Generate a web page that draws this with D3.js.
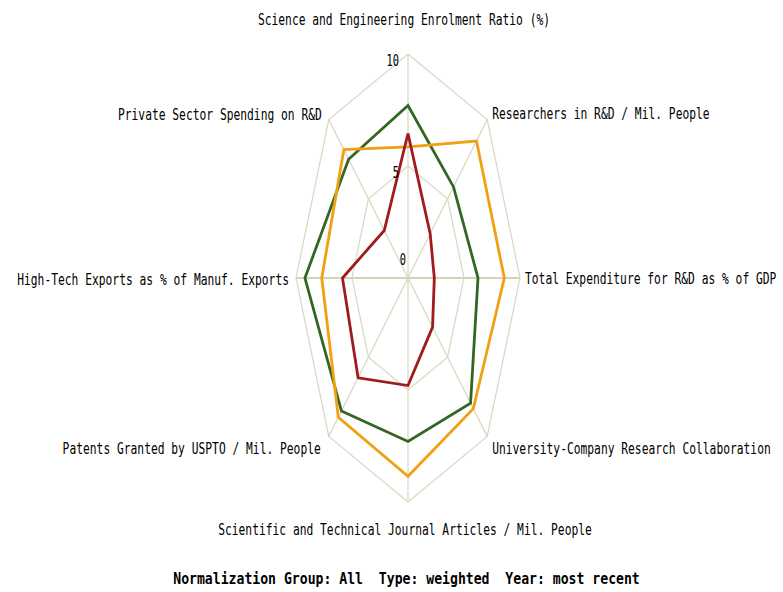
<!DOCTYPE html>
<html lang="en">
<head>
    <meta charset="UTF-8">
    <title>Radar</title>
    <script src="https://d3js.org/d3.v7.min.js"></script>
    <style>
        body { margin: 0; background: #fff; }
        text { font-family: "DejaVu Sans Mono", "Liberation Mono", monospace; fill: #000; }
    </style>
</head>
<body>
    <script>
        const categories = [
            "Science and Engineering Enrolment Ratio (%)",
            "Researchers in R&D / Mil. People",
            "Total Expenditure for R&D as % of GDP",
            "University-Company Research Collaboration",
            "Scientific and Technical Journal Articles / Mil. People",
            "Patents Granted by USPTO / Mil. People",
            "High-Tech Exports as % of Manuf. Exports",
            "Private Sector Spending on R&D"
        ];
        const series1 = [7.7, 5.75, 6.25, 7.9, 7.3, 8.4, 9.2, 7.5];
        const series2 = [5.85, 8.65, 8.6, 8.25, 8.85, 8.8, 7.7, 8.1];
        const series3 = [6.45, 2.8, 2.35, 3.1, 4.8, 6.3, 5.85, 3.0];
        const ringValues = [5, 10];
        const tickLabels = ["10", "5", "0"];
        const tickValues = [10, 5, 0];
        const title = "Normalization Group: All  Type: weighted  Year: most recent";

        const width = 783, height = 592;
        const cx = 408, cy = 278, rx = 112, ry = 224;
        const colors = ["#336622", "#f0a010", "#a01c1c"];
        const narrow = 0.753; // the original font is a tall condensed one

        // label offsets from the outer vertex: [dx, dy, anchor]
        const labelPos = [
            [-4, -34, "middle"], [5, -6, "start"], [5, 1, "start"], [5, 12, "start"],
            [-3, 28, "middle"], [-8, 12, "end"], [-7, 2, "end"], [-7, -5, "end"]
        ];

        const r = d3.scaleLinear().domain([0, 10]).range([0, 1]);
        const angle = d3.scaleLinear().domain([0, categories.length]).range([0, 2 * Math.PI]);
        const px = (v, i) => cx + rx * r(v) * Math.sin(angle(i));
        const py = (v, i) => cy - ry * r(v) * Math.cos(angle(i));

        const svg = d3.select("body").append("svg")
            .attr("width", width)
            .attr("height", height);

        const closed = d3.line()
            .x(d => d[0]).y(d => d[1])
            .curve(d3.curveLinearClosed);

        // grid rings
        svg.selectAll(".ring").data(ringValues).enter().append("path")
            .attr("d", v => closed(categories.map((c, i) => [px(v, i), py(v, i)])))
            .attr("fill", "none")
            .attr("stroke", "#d8d8c0")
            .attr("stroke-width", 1.2);

        // spokes
        svg.selectAll(".spoke").data(categories).enter().append("line")
            .attr("x1", cx).attr("y1", cy)
            .attr("x2", (d, i) => px(10, i))
            .attr("y2", (d, i) => py(10, i))
            .attr("stroke", (d, i) => i % 4 == 2 ? "#d4d4b4" : "#d8d8c0")
            .attr("stroke-width", (d, i) => i % 4 == 2 ? 2.2 : 1.2);

        // series
        [series1, series2, series3].forEach((s, k) => {
            svg.append("path")
                .attr("d", closed(s.map((v, i) => [px(v, i), py(v, i)])))
                .attr("fill", "none")
                .attr("stroke", colors[k])
                .attr("stroke-width", 2.8)
                .attr("stroke-linejoin", "miter");
        });

        // tick labels
        svg.selectAll(".tick").data(tickLabels).enter().append("text")
            .attr("transform", (d, i) => {
                const x = tickValues[i] == 0 ? 406 : 399;
                const y = tickValues[i] == 0 ? cy - 18 : cy - ry * r(tickValues[i]) + 7;
                return `translate(${x},${y}) scale(0.69,1)`;
            })
            .attr("dy", "0.36em")
            .attr("text-anchor", "end")
            .attr("font-size", 15)
            .text(d => d);

        // axis labels
        svg.selectAll(".label").data(categories).enter().append("text")
            .attr("transform", (d, i) =>
                `translate(${px(10, i) + labelPos[i][0]},${py(10, i) + labelPos[i][1]}) scale(${narrow},1)`)
            .attr("dy", "0.36em")
            .attr("text-anchor", (d, i) => labelPos[i][2])
            .attr("font-size", 15)
            .text(d => d);

        // bottom title
        svg.append("text")
            .attr("transform", "translate(406.5,578) scale(0.822,1)")
            .attr("dy", "0.36em")
            .attr("text-anchor", "middle")
            .attr("font-size", 16)
            .attr("font-weight", "bold")
            .style("white-space", "pre")
            .text(title);
    </script>
</body>
</html>
